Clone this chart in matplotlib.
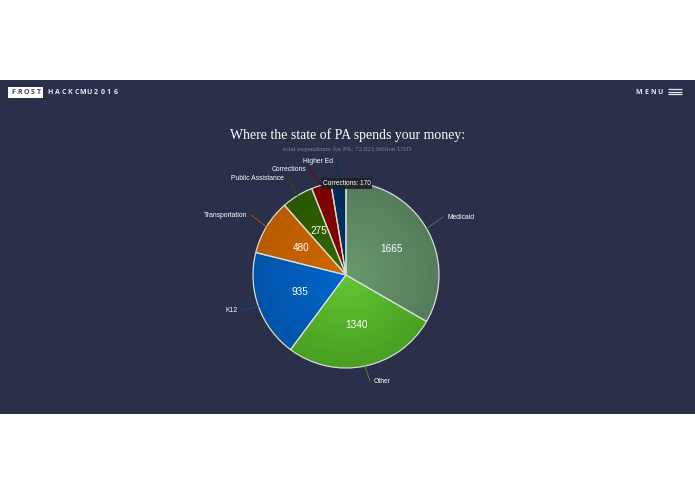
import numpy as np
import matplotlib

matplotlib.use("Agg")

import matplotlib.pyplot as plt
from matplotlib.colors import LinearSegmentedColormap
from matplotlib.patches import Rectangle

W, H = 695, 494
NAVY = "#2a2f4a"

categories = ["Medicaid", "Other", "K12", "Transportation", "Public Assistance", "Corrections", "Higher Ed"]
values = [1665, 1340, 935, 480, 275, 170, 130]
shown_values = [True, True, True, True, True, False, False]
centre_colors = ["#6a9a6e", "#62c632", "#0066cc", "#d06800", "#336600", "#8b0000", "#003366"]
edge_colors = ["#557c5b", "#4a9f22", "#0054a8", "#b85c00", "#2b5700", "#7c0000", "#002d59"]

# label anchors in picture pixels (x, y, ha)
label_pos = [(447, 217, "left"), (374, 381, "left"), (238, 310, "right"), (247, 215, "right"),
             (284, 178, "right"), (306, 169, "right"), (333, 161, "right")]

CX, CY, R = 346, 275, 93
SANS = "Liberation Sans"
SERIF = "Liberation Serif"

fig = plt.figure(figsize=(W / 100, H / 100), dpi=100, facecolor="white")

# page layer, pixel coordinates, y down
bg = fig.add_axes([0, 0, 1, 1])
bg.set_xlim(0, W)
bg.set_ylim(H, 0)
bg.axis("off")
bg.add_patch(Rectangle((0, 80), W, 334, facecolor=NAVY, edgecolor="none"))
for y in (107, 122, 403):
    bg.plot([0, W], [y, y], color="#30354f", lw=0.6)

# header
bg.add_patch(Rectangle((8, 87), 35, 11, facecolor="white", edgecolor="none"))
for s, x0, x1, c in (("FROST", 12, 40, "#3a3f58"), ("HACKCMU2016", 49, 117, "#e8e9ee"), ("MENU", 637, 662, "#e8e9ee")):
    for ch, x in zip(s, np.linspace(x0 + 1.5, x1 - 1.5, len(s))):
        bg.text(x, 92.5, ch, color=c, fontsize=5.0, fontweight="bold", family="Open Sans", ha="center", va="center")
for y in (89, 91.7, 94.4):
    bg.plot([668, 681.5], [y, y], color="#e8e9ee", lw=0.9, solid_capstyle="butt")

bg.text(348, 135, "Where the state of PA spends your money:", color="white", fontsize=9.95, family=SERIF,
        ha="center", va="center")
bg.text(347.5, 149, "total expenditure for PA: 72.821 billion USD", color="#7f8296", fontsize=5.15, family=SERIF,
        ha="center", va="center")

# pie, one data unit is one pixel
ax = fig.add_axes([(CX - 110) / W, 1 - (CY + 110) / H, 220 / W, 220 / H])
ax.patch.set_visible(False)
wedges, _ = ax.pie(values, startangle=90, counterclock=False, radius=R, center=(0, 0), colors=centre_colors,
                   wedgeprops={"edgecolor": "#d5dcd5", "linewidth": 0.9})
ax.set_aspect("equal")

grid = np.linspace(-R, R, 400)
xx, yy = np.meshgrid(grid, grid)
dist = np.hypot(xx, yy) / R
for wedge, c0, c1 in zip(wedges, centre_colors, edge_colors):
    cmap = LinearSegmentedColormap.from_list("slice", [c0, c1])
    im = ax.imshow(dist, extent=(-R, R, -R, R), origin="lower", cmap=cmap, vmin=0, vmax=1, zorder=2)
    im.set_clip_path(wedge)
    wedge.set_facecolor("none")
    wedge.set_zorder(3)
ax.set_xlim(-110, 110)
ax.set_ylim(-110, 110)

# text and connectors above the pie
top = fig.add_axes([0, 0, 1, 1])
top.set_xlim(0, W)
top.set_ylim(H, 0)
top.axis("off")
value_r = [0.56, 0.55, 0.53, 0.56, 0.55, 0.6, 0.6]
for wedge, name, val, show, c1, (lx, ly, ha), vr in zip(wedges, categories, values, shown_values, edge_colors,
                                                         label_pos, value_r):
    mid = np.radians((wedge.theta1 + wedge.theta2) / 2)
    ex, ey = CX + R * np.cos(mid), CY - R * np.sin(mid)
    gap = 4 if ha == "left" else -4
    top.plot([ex, lx - gap], [ey, ly], color=c1, lw=0.6, zorder=1)
    top.text(lx, ly, name, color="white", fontsize=4.9, family=SANS, ha=ha, va="center")
    if show:
        top.text(CX + vr * R * np.cos(mid), CY - vr * R * np.sin(mid), str(val), color="white", fontsize=7.2,
                 family=SANS, ha="center", va="center")

# tooltip
top.add_patch(Rectangle((321, 178), 51, 11, facecolor="#1e2026", edgecolor="none", alpha=0.9, zorder=4))
top.text(346.5, 183.5, "Corrections: 170", color="white", fontsize=4.7, family=SANS, ha="center", va="center",
         zorder=5)

fig.savefig("out.png", dpi=100)
plt.close(fig)
